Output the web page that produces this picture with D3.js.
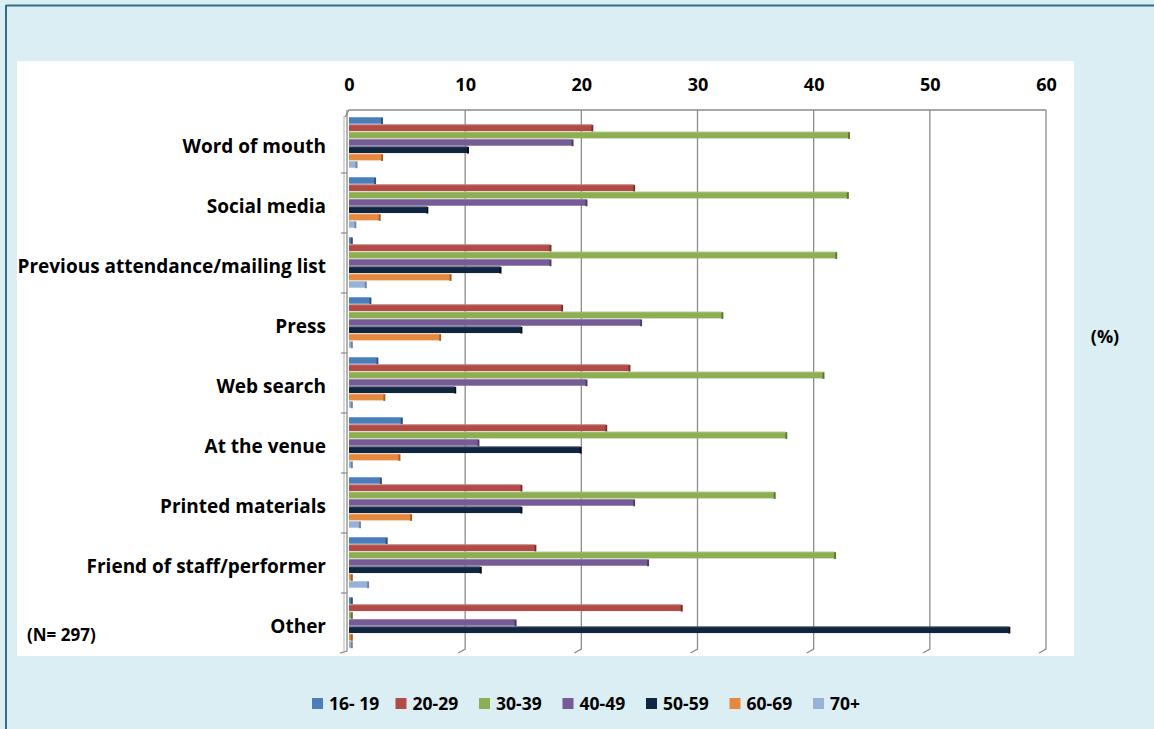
<!DOCTYPE html>
<html><head><meta charset="utf-8">
<script src="https://cdn.jsdelivr.net/npm/d3@7"></script>
<style>
html,body{margin:0;padding:0;background:#DAEEF3;}
svg{display:block;}
text{font-family:"Open Sans","Liberation Sans",sans-serif;font-weight:bold;fill:#000;}
</style></head><body>
<svg id="chart" width="1154" height="729"></svg>
<script>
const categories = ["Word of mouth","Social media","Previous attendance/mailing list","Press","Web search","At the venue","Printed materials","Friend of staff/performer","Other"];
const seriesNames = ["16- 19","20-29","30-39","40-49","50-59","60-69","70+"];
const s16_19 = [2.8, 2.2, 0.2, 1.8, 2.4, 4.5, 2.7, 3.2, 0.2];
const s20_29 = [20.9, 24.5, 17.3, 18.3, 24.1, 22.1, 14.8, 16.0, 28.6];
const s30_39 = [43.0, 42.9, 41.9, 32.1, 40.8, 37.6, 36.6, 41.8, 0.2];
const s40_49 = [19.2, 20.4, 17.3, 25.1, 20.4, 11.1, 24.5, 25.7, 14.3];
const s50_59 = [10.2, 6.7, 13.0, 14.8, 9.1, 19.9, 14.8, 11.3, 56.8];
const s60_69 = [2.8, 2.6, 8.7, 7.8, 3.0, 4.3, 5.3, 0.2, 0.2];
const s70plus = [0.6, 0.5, 1.4, 0.2, 0.2, 0.2, 0.9, 1.6, 0.2];
const tickValues = [0,10,20,30,40,50,60];
const seriesValues = [s16_19, s20_29, s30_39, s40_49, s50_59, s60_69, s70plus];
const colors = ["#4A7EBB","#B24B48","#8DAE52","#765B97","#10253F","#E5893E","#97B2D6"];
const sideColors = ["#2E527F","#7A2E2C","#5E7636","#4E3C66","#050E1A","#A55E25","#6C86AA"];

const svg = d3.select("#chart");
svg.append("line").attr("x1",6).attr("x2",1154).attr("y1",5.5).attr("y2",5.5).attr("stroke","#31707F").attr("stroke-width",2);
svg.append("line").attr("x1",6).attr("x2",6).attr("y1",5).attr("y2",729).attr("stroke","#31707F").attr("stroke-width",2);
svg.append("rect").attr("x",17).attr("y",61).attr("width",1057).attr("height",595).attr("fill","#fff");

const x = d3.scaleLinear().domain([0,60]).range([349,1046]);
const y = d3.scaleBand().domain(categories).range([113,653]).paddingInner(0).paddingOuter(0);
const yInner = d3.scaleBand().domain(seriesNames).range([4, 4+7*7.33]);

const gTop = 110, gBot = 649;
const grid = svg.append("g");
tickValues.forEach(t => {
  if (t === 0) return;
  grid.append("path").attr("d",`M${x(t)},${gTop}V${gBot}L${x(t)-7},${gBot+4}`)
    .attr("fill","none").attr("stroke","#8C8C8C").attr("stroke-width",1.3);
});
grid.append("path").attr("d",`M${x(0)-4},${gTop+7}L${x(0)},${gTop}H${x(60)}`).attr("fill","none").attr("stroke","#8C8C8C").attr("stroke-width",1.3);
grid.append("path").attr("d",`M${x(0)-2},${gTop}V${gBot+2}L${x(0)-9},${gBot+4}`).attr("fill","none").attr("stroke","#8C8C8C").attr("stroke-width",1.3);
grid.append("path").attr("d",`M${x(0)-5},${gTop+6}V${gBot+4}`).attr("fill","none").attr("stroke","#B0B0B0").attr("stroke-width",1);
categories.forEach((c,i) => {
  if (i===0) return;
  grid.append("line").attr("x1",x(0)-8).attr("x2",x(0)-2).attr("y1",y(c)).attr("y2",y(c)).attr("stroke","#8C8C8C").attr("stroke-width",1.2);
});

const axisG = svg.append("g").attr("transform",`translate(0,${gTop})`)
  .call(d3.axisTop(x).tickValues(tickValues).tickSize(0).tickPadding(19));
axisG.select(".domain").remove();
axisG.selectAll("text").attr("font-size",18).attr("font-family","Open Sans").attr("font-weight","bold").attr("fill","#000");

const bars = svg.append("g");
seriesValues.forEach((vals, si) => {
  categories.forEach((c, ci) => {
    const v = vals[ci];
    const y0 = y(c) + yInner(seriesNames[si]);
    const h = yInner.bandwidth();
    const w = Math.max(x(v) - x(0), 1);
    bars.append("rect").attr("x",x(0)).attr("y",y0).attr("width",w).attr("height",h-0.6).attr("fill",colors[si]);
    bars.append("rect").attr("x",x(0)+w-0.5).attr("y",y0+0.5).attr("width",2).attr("height",h-0.6).attr("fill",sideColors[si]);
    bars.append("rect").attr("x",x(0)).attr("y",y0).attr("width",w).attr("height",1).attr("fill","#fff").attr("opacity",0.25);
  });
});

svg.append("g").selectAll("text").data(categories).join("text")
  .attr("x",326).attr("y",d => y(d)+y.bandwidth()/2+3).attr("dy","0.35em")
  .attr("text-anchor","end").attr("font-size",19).text(d => d);

svg.append("text").attr("x",1105).attr("y",337).attr("dy","0.35em").attr("text-anchor","middle").attr("font-size",18).text("(%)");
svg.append("text").attr("x",27).attr("y",635).attr("dy","0.35em").attr("font-size",17).text("(N= 297)");

const leg = svg.append("g");
seriesNames.forEach((n,i) => {
  const lx = 312 + i*83.5;
  leg.append("rect").attr("x",lx).attr("y",698).attr("width",11).attr("height",11).attr("fill",colors[i]);
  leg.append("text").attr("x",lx+17).attr("y",704).attr("dy","0.35em").attr("font-size",17.5).text(n);
});
</script>
</body></html>
